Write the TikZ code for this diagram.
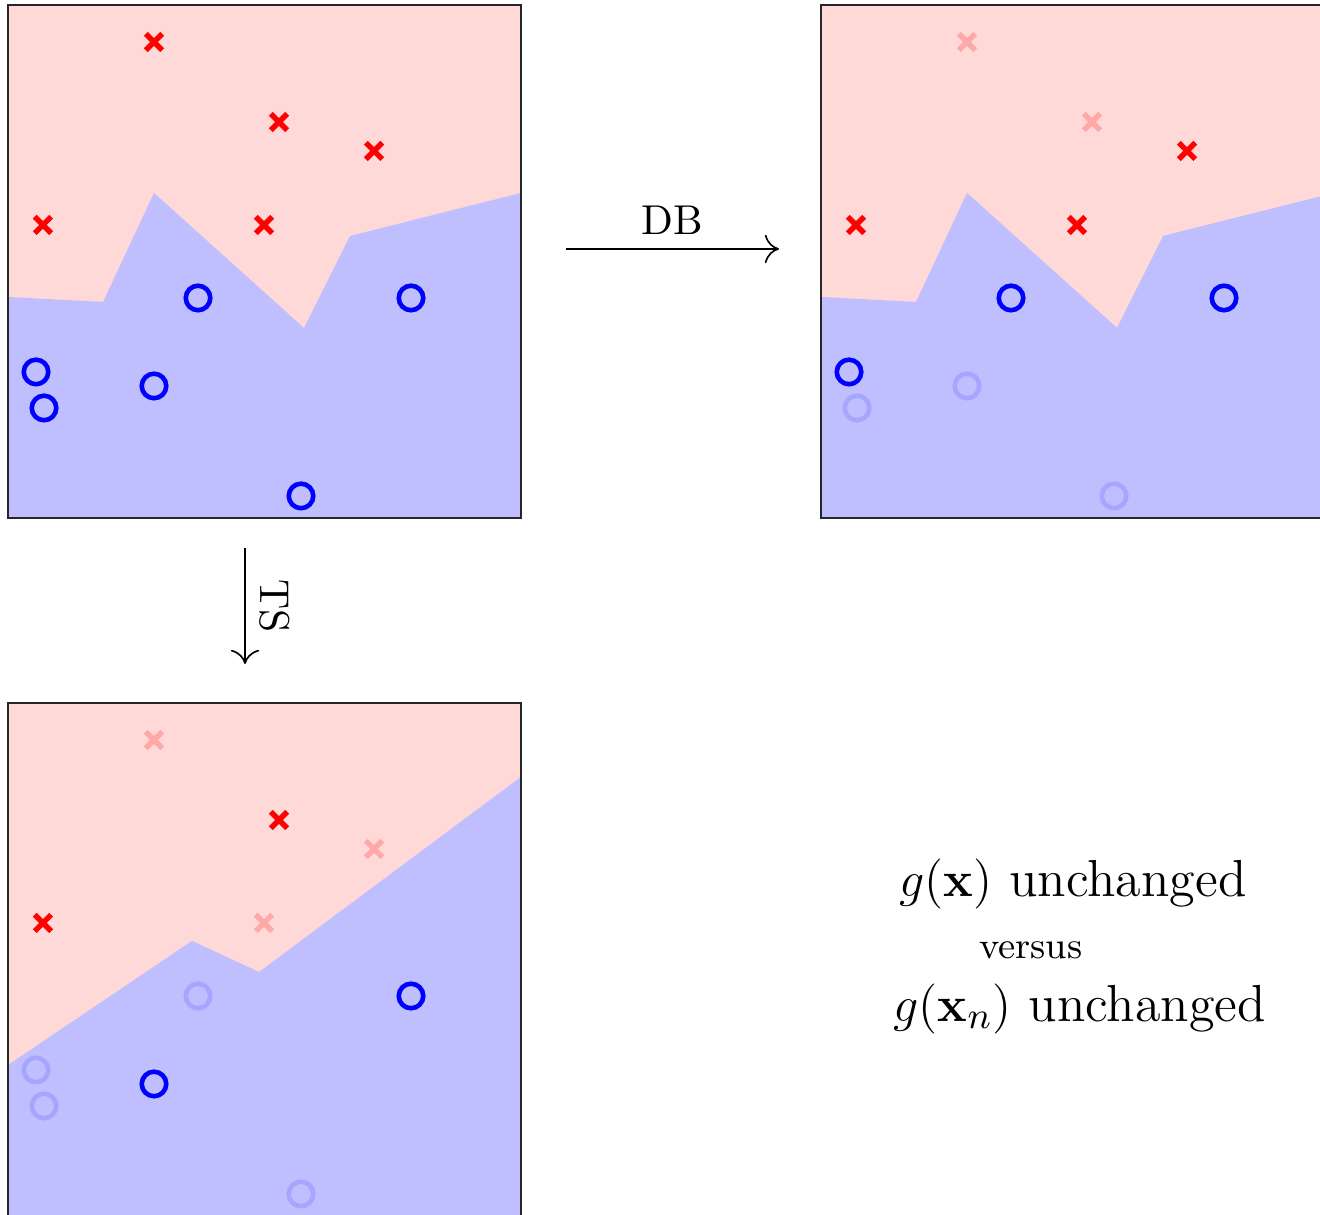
\documentclass[tikz,border=0pt]{standalone}
\definecolor{redzone}{RGB}{255,216,216}
\definecolor{bluezone}{RGB}{191,191,255}
\definecolor{redfade}{RGB}{255,168,168}
\definecolor{bluefade}{RGB}{166,166,255}
\usepackage{tikz}
\usepackage{xcolor}
\usepackage{amsmath}
\usetikzlibrary{arrows.meta}

\begin{document}
\begin{tikzpicture}[x=12.3pt, y=12.3pt,
                    xmark/.style={line width=1.3pt},
                    omark/.style={line width=1.1pt},
                    frame/.style={line width=0.45pt, black!85}]
                    \clip (-0.156,-13.587) rectangle (25.575,10.097);
                    % original fit
                    \fill[redzone] (0,0) rectangle (10,10);
                    \fill[bluezone] (0,0) -- (0,4.308) -- (1.852,4.211) -- (2.846,6.335) -- (5.770,3.704) -- (6.667,5.497) -- (10,6.335) -- (10,0) -- cycle;
                    \foreach \x/\y/\c in {2.846/9.279/red, 5.283/7.719/red, 7.135/7.154/red, 0.682/5.712/red, 4.990/5.712/red}
                        \draw[xmark, \c] (\x-0.16,\y-0.16) -- (\x+0.16,\y+0.16) (\x-0.16,\y+0.16) -- (\x+0.16,\y-0.16);
                    \foreach \x/\y/\c in {3.704/4.288/blue, 7.856/4.288/blue, 0.546/2.846/blue, 0.702/2.144/blue, 2.846/2.573/blue, 5.712/0.429/blue}
                        \draw[omark, \c] (\x,\y) circle[radius=0.239];
                    \draw[frame] (0,0) rectangle (10,10);
                    % same boundary, only some points matter
                    \begin{scope}[shift={(15.848,0)}]
                        \fill[redzone] (0,0) rectangle (10,10);
                        \fill[bluezone] (0,0) -- (0,4.308) -- (1.852,4.211) -- (2.846,6.335) -- (5.770,3.704) -- (6.667,5.497) -- (10,6.335) -- (10,0) -- cycle;
                        \foreach \x/\y/\c in {2.846/9.279/redfade, 5.283/7.719/redfade, 7.135/7.154/red, 0.682/5.712/red, 4.990/5.712/red}
                            \draw[xmark, \c] (\x-0.16,\y-0.16) -- (\x+0.16,\y+0.16) (\x-0.16,\y+0.16) -- (\x+0.16,\y-0.16);
                        \foreach \x/\y/\c in {3.704/4.288/blue, 7.856/4.288/blue, 0.546/2.846/blue, 0.702/2.144/bluefade, 2.846/2.573/bluefade, 5.712/0.429/bluefade}
                            \draw[omark, \c] (\x,\y) circle[radius=0.239];
                        \draw[frame] (0,0) rectangle (10,10);
                    \end{scope}
                    % retrained on a subset
                    \begin{scope}[shift={(0,-13.606)}]
                        \fill[redzone] (0,0) rectangle (10,10);
                        \fill[bluezone] (0,0) -- (0,2.943) -- (3.587,5.361) -- (4.893,4.756) -- (10,8.558) -- (10,0) -- cycle;
                        \foreach \x/\y/\c in {2.846/9.279/redfade, 5.283/7.719/red, 7.135/7.154/redfade, 0.682/5.712/red, 4.990/5.712/redfade}
                            \draw[xmark, \c] (\x-0.16,\y-0.16) -- (\x+0.16,\y+0.16) (\x-0.16,\y+0.16) -- (\x+0.16,\y-0.16);
                        \foreach \x/\y/\c in {3.704/4.288/bluefade, 7.856/4.288/blue, 0.546/2.846/bluefade, 0.702/2.144/bluefade, 2.846/2.573/blue, 5.712/0.429/bluefade}
                            \draw[omark, \c] (\x,\y) circle[radius=0.239];
                        \draw[frame] (0,0) rectangle (10,10);
                    \end{scope}
                    \coordinate (dbFrom) at (10.877,5.244);
                    \coordinate (dbTo) at (15.029,5.244);
                    \coordinate (tsFrom) at (4.62,-0.585);
                    \coordinate (tsTo) at (4.62,-2.846);
                    \draw[-{Computer Modern Rightarrow[length=3.4pt, width=6.8pt]}] (dbFrom) -- (dbTo) node[midway, above] (dbLabel) {DB};
                    \draw[-{Computer Modern Rightarrow[length=3.4pt, width=6.8pt]}] (tsFrom) -- (tsTo) node[midway, above, rotate=-90] (tsLabel) {TS};
                    \node[font=\fontsize{12.5}{15}\selectfont] (gx) at (20.76,-7.135) {$g(\mathbf{x})$ unchanged};
                    \node[font=\small] (vs) at (19.94,-8.42) {versus};
                    \node[font=\fontsize{12.5}{15}\selectfont] (gxn) at (20.89,-9.57) {$g(\mathbf{x}_n)$ unchanged};
                \end{tikzpicture}
\end{document}
